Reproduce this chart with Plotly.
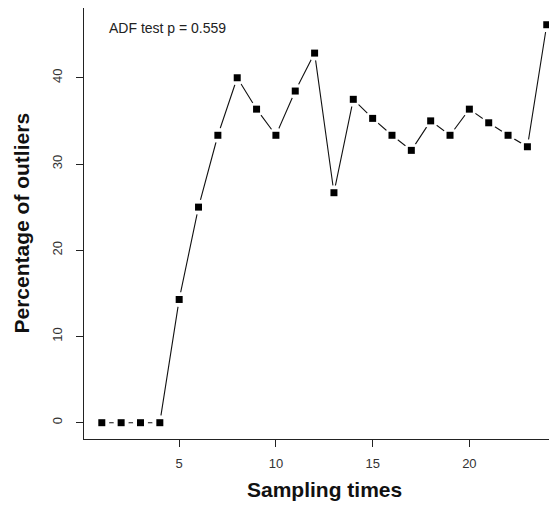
import plotly.graph_objects as go

# data
sampling_times = list(range(1, 25))
pct_outliers = [0, 0, 0, 0, 14.29, 25.0, 33.33, 40.0, 36.36, 33.33, 38.46, 42.86,
                26.67, 37.5, 35.29, 33.33, 31.58, 35.0, 33.33, 36.36, 34.78, 33.33,
                32.0, 46.15]
x_ticks = [5, 10, 15, 20]
y_ticks = [0, 10, 20, 30, 40]
adf_label = "ADF test p = 0.559"

FONT = "Liberation Sans, Arial, sans-serif"

fig = go.Figure()

# line (R type="b": segments with gaps around the points)
fig.add_trace(go.Scatter(x=sampling_times, y=pct_outliers, mode="lines",
                         line=dict(color="#111111", width=1.1), showlegend=False))
# white discs that open the gaps
fig.add_trace(go.Scatter(x=sampling_times, y=pct_outliers, mode="markers",
                         marker=dict(symbol="circle", size=15, color="white"),
                         showlegend=False))
# black square points
fig.add_trace(go.Scatter(x=sampling_times, y=pct_outliers, mode="markers",
                         marker=dict(symbol="square", size=7, color="black"),
                         showlegend=False, cliponaxis=False))

# the page body has an 8px margin, so the figure fills the rest of the window
fig.update_layout(
    width=549, height=504,
    margin=dict(l=76, r=0, t=0, b=73),
    paper_bgcolor="white", plot_bgcolor="white",
    font=dict(family=FONT, size=13, color="#333333"),
    showlegend=False,
)

fig.update_xaxes(range=[0.08, 24.53], tickvals=x_ticks, ticks="outside", ticklen=7,
                 tickcolor="#222222", showline=True, linecolor="#222222", linewidth=1.2,
                 mirror=True, showgrid=False, zeroline=False, ticklabelstandoff=5,
                 tickfont=dict(size=13, color="#333333"))
fig.update_yaxes(range=[-1.89, 48.09], tickvals=y_ticks, ticks="outside", ticklen=7,
                 tickcolor="#222222", showline=True, linecolor="#222222", linewidth=1.2,
                 showgrid=False, zeroline=False, tickangle=-90, ticklabelstandoff=9,
                 tickfont=dict(size=13, color="#333333"))

fig.add_annotation(x=12.5, xref="x", y=-0.118, yref="paper", text="<b>Sampling times</b>",
                   showarrow=False, xanchor="center", yanchor="middle",
                   font=dict(family=FONT, size=21, color="#111111"))
fig.add_annotation(x=0, xref="paper", xshift=-63, y=23.1, yref="y",
                   text="<b>Percentage of outliers</b>", textangle=-90,
                   showarrow=False, xanchor="center", yanchor="middle",
                   font=dict(family=FONT, size=21, color="#111111"))
fig.add_annotation(x=1.27, xref="x", y=45.8, yref="y", text=adf_label,
                   showarrow=False, xanchor="left", yanchor="middle",
                   font=dict(family=FONT, size=14, color="#222222"))

fig.write_html("out.html")
